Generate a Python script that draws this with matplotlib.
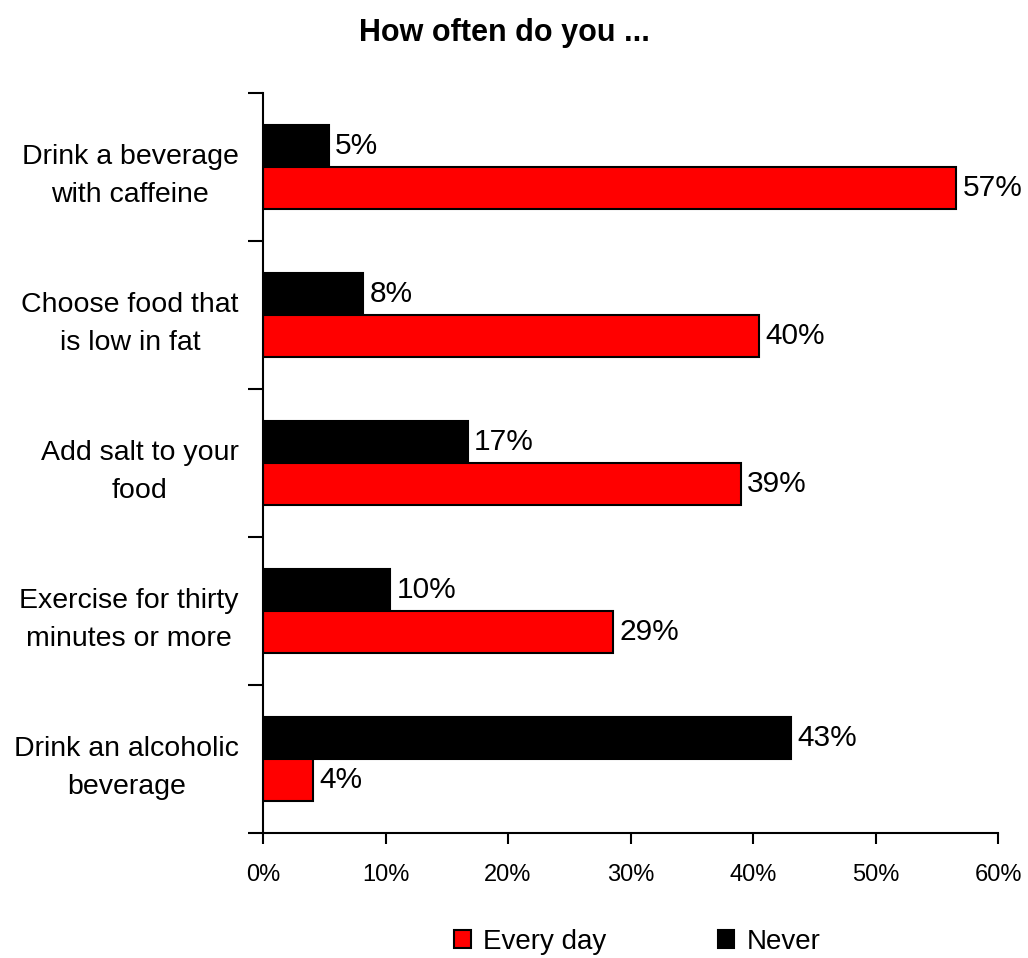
import matplotlib
matplotlib.use("Agg")
import matplotlib.pyplot as plt
from matplotlib.patches import Patch
from matplotlib.ticker import FixedLocator, PercentFormatter

plt.rcParams['font.family'] = ['Liberation Sans', 'DejaVu Sans']

categories = [
    "Drink a beverage\nwith caffeine",
    "Choose food that\nis low in fat",
    "Add salt to your\nfood",
    "Exercise for thirty\nminutes or more",
    "Drink an alcoholic\nbeverage",
]
never = [5.4, 8.2, 16.7, 10.4, 43.1]
every_day = [56.6, 40.5, 39.0, 28.6, 4.1]
x_ticks = [0, 10, 20, 30, 40, 50, 60]

fig = plt.figure(figsize=(10.28, 9.58), dpi=100)
ax = fig.add_axes([263 / 1028, 1 - 833 / 958, 735 / 1028, 740 / 958])

h = 0.284
pos = list(range(len(categories)))
for i, (nv, ev) in enumerate(zip(never, every_day)):
    ax.barh(i - h / 2, nv, height=h, color='black', edgecolor='black', linewidth=1.5)
    ax.barh(i + h / 2, ev, height=h, color='#ff0000', edgecolor='black', linewidth=1.5)
    ax.text(nv + 0.5, i - h / 2, f"{round(nv)}%", va='center', ha='left', fontsize=21.5)
    ax.text(ev + 0.5, i + h / 2, f"{round(ev)}%", va='center', ha='left', fontsize=21.5)

ax.set_ylim(4.5, -0.5)
ax.set_xlim(0, 60)

ax.set_yticks(pos)
ax.set_yticklabels(categories, fontsize=20.5, multialignment='center', linespacing=1.6)
ax.tick_params(axis='y', which='major', length=0, pad=17.5)
ax.yaxis.set_minor_locator(FixedLocator([k - 0.5 for k in range(len(categories) + 1)]))
ax.tick_params(axis='y', which='minor', length=11, width=1.5, direction='out')

ax.set_xticks(x_ticks)
ax.xaxis.set_major_formatter(PercentFormatter(decimals=0))
ax.tick_params(axis='x', length=8, width=1.5, direction='out', labelsize=17, pad=14)

for s in ('top', 'right'):
    ax.spines[s].set_visible(False)
for s in ('left', 'bottom'):
    ax.spines[s].set_linewidth(1.5)

fig.text(0.491, 0.966, "How often do you ...", ha='center', va='center',
         fontsize=22, fontweight='bold')

handles = [Patch(facecolor='#ff0000', edgecolor='black', linewidth=1.5, label='Every day'),
           Patch(facecolor='black', edgecolor='black', linewidth=1.5, label='Never')]
fig.legend(handles=handles, loc='center', bbox_to_anchor=(0.62, 0.017), ncol=2,
           frameon=False, fontsize=20, handlelength=0.6, handleheight=0.6,
           handletextpad=0.45, columnspacing=4.0)

fig.savefig("out.png", dpi=100)
